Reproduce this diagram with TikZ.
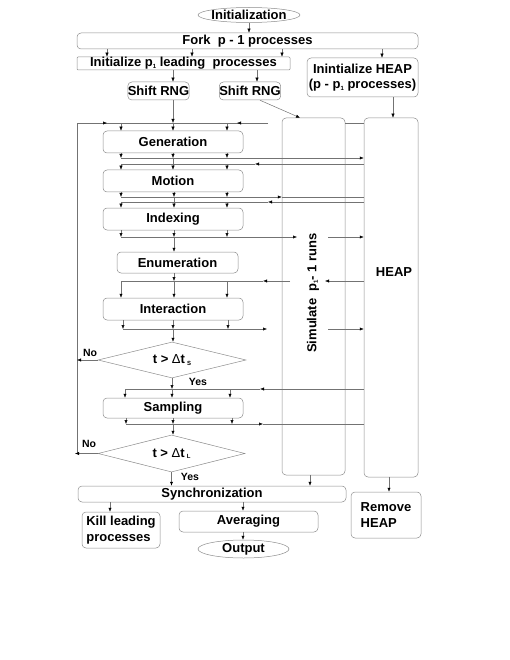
\documentclass[tikz,border=0pt]{standalone}
\usepackage{fontspec}
\setmainfont{Liberation Sans}
\usetikzlibrary{shapes.geometric,arrows.meta}

\definecolor{linegray}{gray}{0.45}
\definecolor{boxgray}{gray}{0.55}
\newcommand{\lowsub}[1]{\raisebox{-1.5pt}{\fontsize{6}{6}\selectfont #1}}
\newcommand{\dtsub}[1]{t > {\mdseries Δ}t\,\lowsub{#1}}

\tikzset{
  box/.style={draw=boxgray, rounded corners=4pt, inner sep=0pt},
  oval/.style={draw=boxgray, ellipse, inner sep=0pt},
  decision/.style={draw=boxgray, diamond, inner sep=0pt},
  arr/.style={draw=linegray, -{Latex[length=4pt,width=3.2pt,black]}},
  ln/.style={draw=linegray},
  yesno/.style={font=\bfseries\fontsize{10.5}{12}\selectfont, inner sep=0pt}
}

\begin{document}
\begin{tikzpicture}[x=1pt, y=-1pt, line width=0.5pt,
    font=\bfseries\fontsize{13}{15.5}\selectfont]
    \useasboundingbox (0,0) rectangle (510,660);

    % start and fork
    \node[oval, minimum width=102, minimum height=15, label=center:Initialization] (init) at (249,15) {};
    \node[box, minimum width=341, minimum height=16] (fork) at (247.5,41) {Fork\ \ p - 1 processes};
    \node[box, rounded corners=1pt, minimum width=213, minimum height=13] (initp) at (183.5,63.5) {Initialize p\lowsub{1} leading\ \ processes};
    \node[box, minimum width=111, minimum height=39, align=center] (heapinit) at (362.5,77.5) {Inintialize HEAP\\(p - p\lowsub{1} processes)};
    \node[box, minimum width=57, minimum height=18] (rng1) at (158.5,91) {Shift RNG};
    \node[box, minimum width=60, minimum height=18] (rng2) at (250,91) {Shift RNG};

    % the two tall columns
    \node[box, minimum width=63, minimum height=357] (sim) at (313.5,296.5) {};
    \node[box, minimum width=54, minimum height=359] (heap) at (391,297.5) {};
    \node (heaplbl) at (394,272) {HEAP};

    % main loop
    \node[box, minimum width=140, minimum height=22] (gen) at (173,142) {Generation};
    \node[box, minimum width=140, minimum height=22] (motion) at (173,181) {Motion};
    \node[box, minimum width=140, minimum height=22] (index) at (173,219) {Indexing};
    \node[box, minimum width=121, minimum height=21] (enum) at (177.5,262.5) {Enumeration};
    \node[box, minimum width=140, minimum height=22] (inter) at (173,309) {Interaction};
    \node[decision, minimum width=148, minimum height=36, label=center:{\dtsub{S}}] (dia1) at (172,360) {};
    \node[box, minimum width=140, minimum height=20] (samp) at (173,408) {Sampling};
    \node[decision, minimum width=147, minimum height=37, label=center:{\dtsub{L}}] (dia2) at (171.5,453.5) {};

    % end
    \node[box, minimum width=268, minimum height=16] (sync) at (212,494) {Synchronization};
    \node[box, minimum width=78, minimum height=36, align=left] (kill) at (121,530) {Kill leading\\processes};
    \node[box, minimum width=139, minimum height=21] (avg) at (248.5,521.5) {Averaging};
    \node[oval, minimum width=91, minimum height=18, label=center:Output] (output) at (243.5,549) {};
    \node[box, minimum width=70, minimum height=46, align=left] (remheap) at (386,515) {Remove\\HEAP};

    \node[yesno] (no1) at (90,353) {No};
    \node[yesno] (yes1) at (198,382) {Yes};
    \node[yesno] (no2) at (89,444) {No};
    \node[yesno] (yes2) at (190,477) {Yes};

    % bus lines
    \coordinate (b0) at (77,123);
    \coordinate (b1) at (121,158);
    \coordinate (b2) at (121,164);
    \coordinate (b3) at (121,197);
    \coordinate (b4) at (121,202);
    \coordinate (b5) at (121,237);
    \coordinate (b6) at (121,281);
    \coordinate (b7) at (123,329);
    \coordinate (b8) at (125,389);
    \coordinate (b9) at (126,424);

    % top part
    \draw[arr] (init) -- (init |- fork.north);
    \foreach \x in {107,192,282}
        \draw[arr] (\x,0 |- fork.south) -- (\x,0 |- initp.north);
    \draw[arr] (382,0 |- fork.south) -- (382,0 |- heapinit.north);
    \draw[arr] (173,0 |- initp.south) -- (173,0 |- rng1.north);
    \draw[arr] (257,0 |- initp.south) -- (257,0 |- rng2.north);
    \draw[arr] (173,0 |- rng1.south) -- (173,0 |- b0);
    \draw[arr] (260,0 |- rng2.south) -- (300,0 |- sim.north);
    \draw[arr] (393,0 |- heapinit.south) -- (393,0 |- heap.north);

    % loop back
    \draw[ln] (77,0 |- dia2.west) -- (b0) -- (268,0 |- b0);
    \draw[arr] (b0) -- (107,0 |- b0);
    \draw[arr] (268,0 |- b0) -- (237,0 |- b0);
    \draw[ln] (sim.east |- b0) -- (heap.west |- b0);
    \foreach \x in {121,173,227}
        \draw[arr] (\x,0 |- b0) -- (\x,0 |- gen.north);

    % generation -> motion
    \foreach \x in {121,173,227} {
        \draw[arr] (\x,0 |- gen.south) -- (\x,0 |- b1);
        \draw[arr] (\x,0 |- b2) -- (\x,0 |- motion.north);
    }
    \draw[ln] (173,0 |- b1) -- (173,0 |- b2);
    \draw[arr] (b1) -- (heap.west |- b1);
    \draw[arr] (heap.west |- b2) -- (255,0 |- b2);
    \draw[ln] (255,0 |- b2) -- (b2);

    % motion -> indexing
    \foreach \x in {121,174,227} {
        \draw[arr] (\x,0 |- motion.south) -- (\x,0 |- b3);
        \draw[arr] (\x,0 |- b4) -- (\x,0 |- index.north);
    }
    \draw[ln] (174,0 |- b3) -- (174,0 |- b4);
    \draw[arr] (b3) -- (sim.west |- b3);
    \draw[ln] (sim.west |- b3) -- (heap.west |- b3);
    \draw[arr] (heap.west |- b4) -- (268,0 |- b4);
    \draw[ln] (268,0 |- b4) -- (b4);

    % indexing -> enumeration
    \foreach \x in {121,174,227}
        \draw[arr] (\x,0 |- index.south) -- (\x,0 |- b5);
    \draw[arr] (b5) -- (297,0 |- b5);
    \draw[arr] (328,0 |- b5) -- (heap.west |- b5);
    \draw[arr] (174,0 |- b5) -- (174,0 |- enum.north);

    % enumeration -> interaction
    \draw[arr] (174,0 |- enum.south) -- (174,0 |- b6);
    \draw[arr] (heap.west |- b6) -- (325,0 |- b6);
    \draw[arr] (290,0 |- b6) -- (263,0 |- b6);
    \draw[ln] (263,0 |- b6) -- (b6);
    \foreach \x in {121,174,227}
        \draw[arr] (\x,0 |- b6) -- (\x,0 |- inter.north);

    % interaction -> test
    \foreach \x in {123,173,228}
        \draw[arr] (\x,0 |- inter.south) -- (\x,0 |- b7);
    \draw[arr] (b7) -- (267,0 |- b7);
    \draw[arr] (328,0 |- b7) -- (heap.west |- b7);
    \draw[arr] (173,0 |- b7) -- (173,0 |- dia1.north);

    % first test
    \draw[arr] (dia1.west) -- (77,0 |- dia1.west);
    \draw[arr] (dia1.south) -- (dia1.south |- b8);
    \draw[arr] (heap.west |- b8) -- (260,0 |- b8);
    \draw[ln] (260,0 |- b8) -- (b8);
    \foreach \x in {125,172,230}
        \draw[arr] (\x,0 |- b8) -- (\x,0 |- samp.north);

    % sampling -> second test
    \foreach \x in {126,173,232}
        \draw[arr] (\x,0 |- samp.south) -- (\x,0 |- b9);
    \draw[arr] (b9) -- (263,0 |- b9);
    \draw[ln] (263,0 |- b9) -- (heap.west |- b9);
    \draw[arr] (173,0 |- b9) -- (173,0 |- dia2.north);

    % second test and end
    \draw[arr] (dia2.west) -- (75,0 |- dia2.west);
    \draw[arr] (dia2.south) -- (dia2.south |- sync.north);
    \draw[arr] (310,0 |- sim.south) -- (310,0 |- sync.north);
    \draw[arr] (389,0 |- heap.south) -- (389,0 |- remheap.north);
    \draw[arr] (110,0 |- sync.south) -- (110,0 |- kill.north);
    \draw[arr] (243,0 |- sync.south) -- (243,0 |- avg.north);
    \draw[arr] (243,0 |- avg.south) -- (243,0 |- output.north);

    % label on the simulate column
    \node[rotate=90, fill=white, inner sep=1pt] (simlbl) at (313,293) {Simulate\ \ p\lowsub{1}- 1 runs};
\end{tikzpicture}
\end{document}
